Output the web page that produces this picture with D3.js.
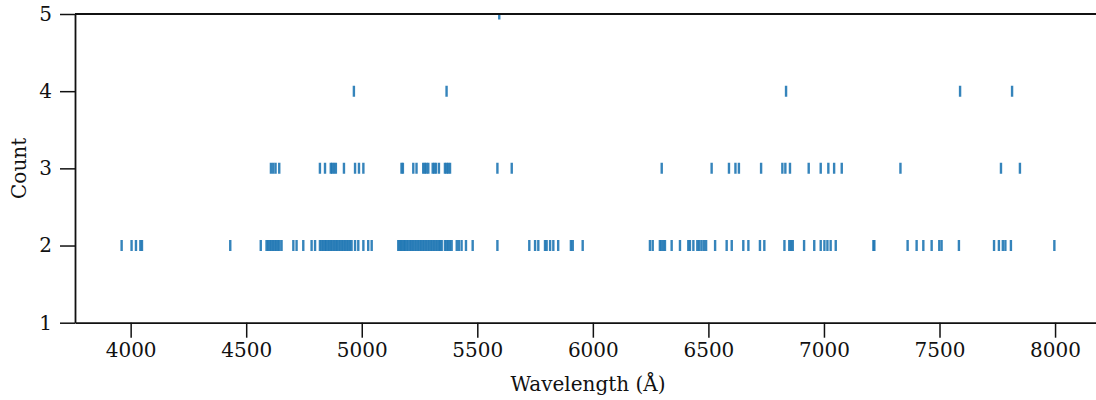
<!DOCTYPE html>
<html><head><meta charset="utf-8">
<script src="https://cdn.jsdelivr.net/npm/d3@7"></script>
<style>body{margin:0;background:#fff}svg{display:block}</style>
</head><body>
<script>
// Wavelengths (Å) of lines, grouped by count level
const count2 = [3961,4004,4023,4042,4049,4431,4563,4588,4595,4602,4609,4616,4623,4630,4637,4644,4653,4704,4718,4747,4783,4798,
  4819,4826,4833,4840,4846,4853,4860,4866,4873,4880,4887,4893,4900,4907,4914,4921,4928,4935,4942,4949,4956,4971,4985,5007,5028,5043,
  5158,5164,5170,5176,5182,5188,5194,5201,5209,5215,5222,5229,5236,5243,5250,5257,5264,5271,5278,5285,5292,5299,5306,5313,5320,5327,5334,5340,5346,
  5360,5367,5374,5381,5389,5411,5420,5432,5451,5480,5587,5725,5750,5764,5793,5800,5815,5829,5850,5905,5913,5956,
  6247,6259,6290,6297,6305,6312,6341,6377,6413,6420,6435,6452,6460,6470,6480,6490,6529,6579,6601,6651,6673,6723,6742,6829,6850,6858,6865,6914,6958,6986,7002,7015,7029,7051,7214,7218,
  7362,7401,7430,7466,7499,7509,7584,7736,7757,7774,7785,7809,7997];
const count3 = [4607,4617,4627,4643,4819,4841,4866,4872,4880,4888,4923,4971,4988,5007,5172,5178,5223,5237,5266,5273,5280,5288,5307,5314,5321,5334,5360,5367,5374,5382,5587,5649,
  6298,6514,6589,6617,6632,6728,6820,6833,6853,6934,6986,7019,7044,7077,7331,7766,7848];
const count4 = [4966,5367,6836,7589,7814];
const count5 = [5595];
const yTicks = [1,2,3,4,5];
const xTicks = [4000,4500,5000,5500,6000,6500,7000,7500,8000];

const W = 1096, H = 400;
const m = {l:75, t:14, b:322.7};
const xr = 1101;
const svg = d3.select("body").append("svg").attr("width",W).attr("height",H);
const x = d3.scaleLinear().domain([3759.2,8198.8]).range([m.l, xr]);
const y = d3.scaleLinear().domain([1,5]).range([m.b, m.t]);

const pts = [];
[[2,count2],[3,count3],[4,count4],[5,count5]].forEach(([c,arr]) => arr.forEach(v => pts.push({v,c})));

svg.append("clipPath").attr("id","clip").append("rect")
  .attr("x",m.l).attr("y",m.t).attr("width",xr-m.l).attr("height",m.b-m.t);

svg.append("g").attr("clip-path","url(#clip)").selectAll("line").data(pts).join("line")
  .attr("x1",d=>x(d.v)).attr("x2",d=>x(d.v))
  .attr("y1",d=>y(d.c)-5.5).attr("y2",d=>y(d.c)+5.5)
  .attr("stroke","#1f77b4").attr("stroke-width",2.4).attr("stroke-opacity",0.9);

const font = "DejaVu Serif";
const gx = svg.append("g").attr("transform",`translate(0,${m.b})`)
  .call(d3.axisBottom(x).tickValues(xTicks).tickFormat(d3.format("d")).tickSize(15).tickSizeOuter(0).tickPadding(5));
const gy = svg.append("g").attr("transform",`translate(${m.l},0)`)
  .call(d3.axisLeft(y).tickValues(yTicks).tickFormat(d3.format("d")).tickSize(15).tickSizeOuter(0).tickPadding(8));
[gx,gy].forEach(g=>{
  g.selectAll("text").attr("font-family",font).attr("font-size",20).attr("fill","#111");
  g.selectAll("line").attr("stroke","#111").attr("stroke-width",1.5);
  g.select(".domain").attr("stroke","#111").attr("stroke-width",1.8);
});
// top spine
svg.append("line").attr("x1",m.l).attr("x2",xr).attr("y1",m.t).attr("y2",m.t)
  .attr("stroke","#111").attr("stroke-width",1.8);

svg.append("text").attr("x",(m.l+xr)/2).attr("y",391).attr("text-anchor","middle")
  .attr("font-family",font).attr("font-size",20).attr("fill","#111").text("Wavelength (Å)");
svg.append("text").attr("transform",`translate(26,${(m.t+m.b)/2}) rotate(-90)`).attr("text-anchor","middle")
  .attr("font-family",font).attr("font-size",20).attr("fill","#111").text("Count");
</script>
</body></html>
